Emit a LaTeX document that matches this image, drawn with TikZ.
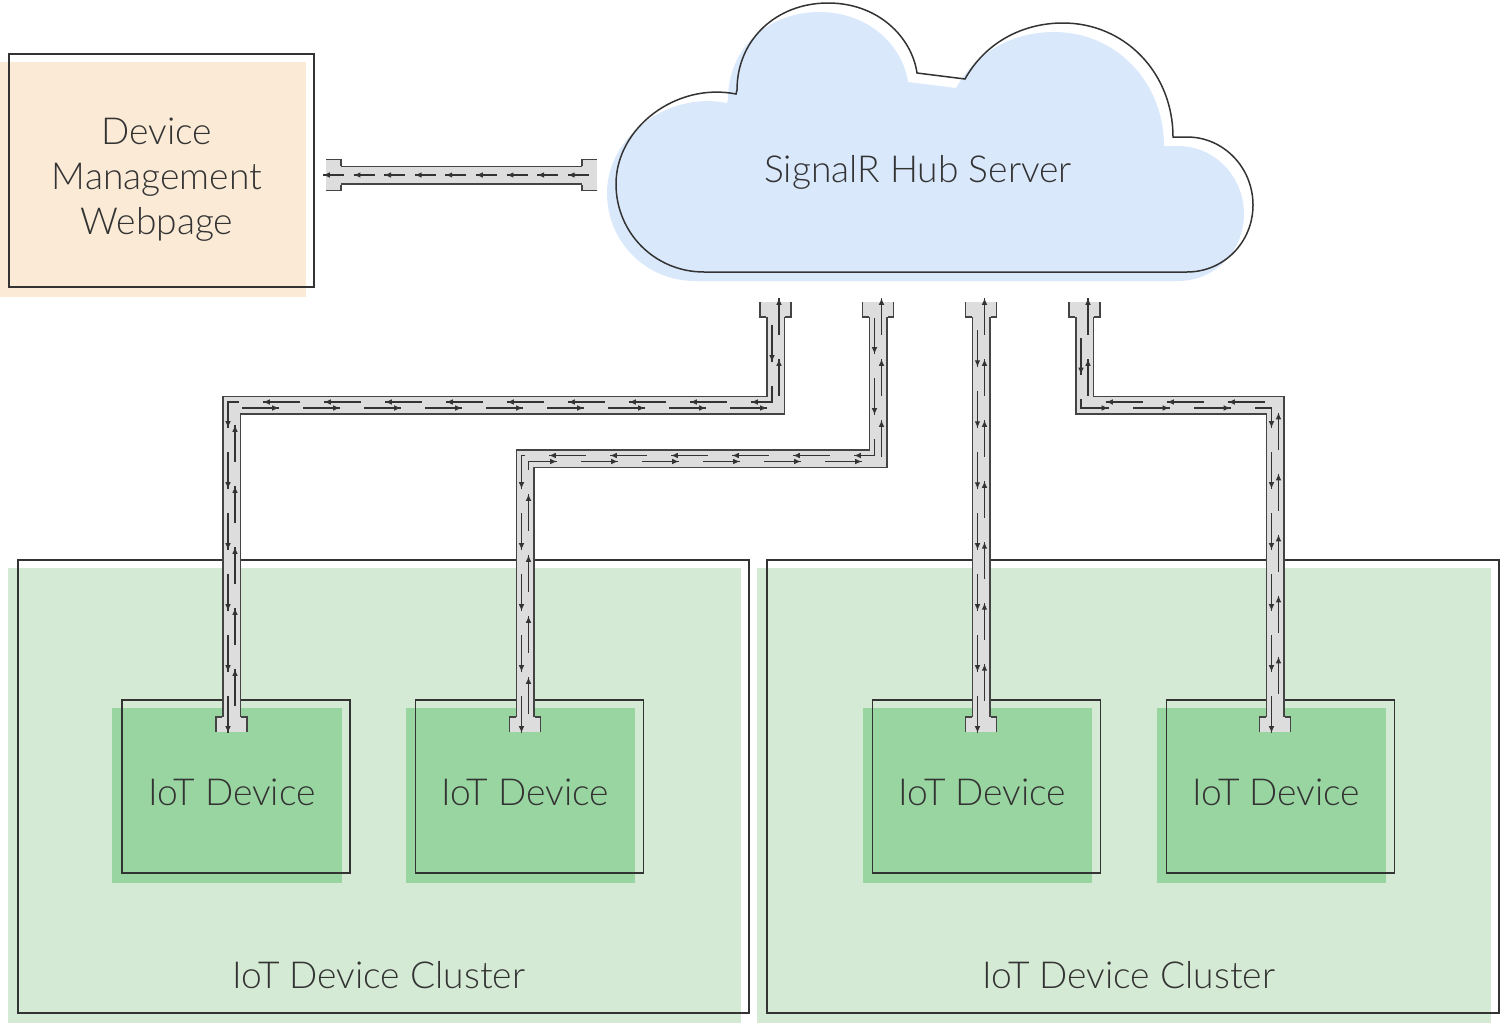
\documentclass[tikz,border=0pt]{standalone}
\usepackage{fontspec}
\setmainfont{Lato Light}
\usetikzlibrary{arrows.meta,calc,decorations.markings,backgrounds}

\definecolor{inkgray}{HTML}{333333}
\definecolor{pipegray}{HTML}{444444}
\definecolor{pipefill}{HTML}{DDDDDD}
\definecolor{webfill}{HTML}{FAEAD6}
\definecolor{hubfill}{HTML}{DAE8FC}
\definecolor{clusterfill}{HTML}{D5EAD4}
\definecolor{devfill}{HTML}{99D5A1}

\newcommand\hubcloud{(704,272) .. controls (655,272) and (616,233) .. (616,184)
  .. controls (616,128) and (676,82) .. (736,94) -- (737,90)
  .. controls (737,39) and (777,3) .. (828,3) .. controls (879,3) and (912,38) .. (917,73)
  -- (965,79) .. controls (985,43) and (1022,23) .. (1063,23)
  .. controls (1125,23) and (1173,73) .. (1173,137) -- (1187,137)
  .. controls (1224,137) and (1253,168) .. (1253,205)
  .. controls (1253,242) and (1224,272) .. (1187,272) -- cycle}

\tikzset{
  box/.style={draw=inkgray, line width=0.75pt, inner sep=0pt},
  pipeedge/.style={draw=pipegray, line width=9.5pt},
  pipecore/.style={draw=pipefill, line width=8pt},
  lane/.style n args={3}{draw=inkgray, line width=0.6pt, dash pattern=on #1 off #2,
    postaction={decorate, decoration={markings,
      mark=between positions 0 and 1 step #3 with {\arrowreversed{Latex[length=3.4pt,width=2.8pt]}}}}},
  hublane/.style={lane={18.5pt}{12pt}{30.5pt}},
  weblane/.style={lane={10.5pt}{4.8pt}{15.3pt}},
  pics/flange/.style={code={
    \fill[pipefill] (-15.5,0) rectangle (15.5,15);
    \draw[pipegray, line width=0.75pt] (-15.5,0) -- (-15.5,15) -- (-9.5,15)
      (15.5,0) -- (15.5,15) -- (9.5,15);
  }},
}

\begin{document}
\begin{tikzpicture}[x=0.5pt, y=-0.5pt,
    every node/.style={font=\fontsize{18.6pt}{22.5pt}\selectfont, text=inkgray, align=center}]
  \useasboundingbox (0,0) rectangle (1500,1023);

  % boxes
  \node[box, minimum width=152.5pt, minimum height=116.5pt] (web) at (161.5,170.5) {};
  \node (webtxt) at ($(web)+(-4.5,9)$) {Device\\Management\\Webpage};
  \node[box, minimum width=365.5pt, minimum height=226.5pt] (lcluster) at (383.5,786.5) {};
  \node[box, minimum width=366pt, minimum height=226.5pt] (rcluster) at (1133,786.5) {};
  \foreach \n/\x in {1/236, 2/529.5, 3/986.5, 4/1280.5} {
    \node[box, minimum width=114pt, minimum height=86.5pt] (dev\n) at (\x,786.5) {};
    \node (devtxt\n) at ($(dev\n)+(-4,6)$) {IoT Device};
  }
  \node (lclabel) at (379,975) {IoT Device Cluster};
  \node (rclabel) at (1129,975) {IoT Device Cluster};

  \begin{scope}[on background layer]
    \foreach \n/\c in {web/webfill, lcluster/clusterfill, rcluster/clusterfill,
        dev1/devfill, dev2/devfill, dev3/devfill, dev4/devfill}
      \fill[\c] ($(\n.south west)+(-9,9)$) rectangle ($(\n.north east)+(-9,9)$);
  \end{scope}

  % hub cloud
  \fill[hubfill, shift={(-9,9)}] \hubcloud;
  \draw[inkgray, line width=0.75pt] \hubcloud;
  \node (hub) at (918,172) {SignalR Hub Server};

  % pipe ports
  \coordinate (webport) at (326,175);
  \coordinate (hubport) at (597,175);
  \coordinate (c1) at (775.5,302);
  \coordinate (c2) at (878,302);
  \coordinate (c3) at (981,302);
  \coordinate (c4) at (1084.5,302);
  \coordinate (d1) at (231.5,732);
  \coordinate (d2) at (525,732);
  \coordinate (d3) at (981,732);
  \coordinate (d4) at (1275,732);

  % hub -> webpage
  \draw[pipeedge] (webport) -- (hubport);
  \draw[pipecore] (webport) -- (hubport);
  \pic[rotate=90] at (webport) {flange};
  \pic[rotate=-90] at (hubport) {flange};
  \draw[weblane] ($(webport)+(-3,0)$) -- ($(hubport)+(-7,0)$);

  % hub <-> devices
  \foreach \i/\yb/\s in {1/405/-1, 2/458.5/-1, 3/500/0, 4/405/1} {
    \draw[pipeedge] (c\i) |- (d\i |- 0,\yb) -- (d\i);
    \draw[pipecore] (c\i) |- (d\i |- 0,\yb) -- (d\i);
    \pic at (c\i) {flange};
    \pic[rotate=180] at (d\i) {flange};
    \draw[hublane] ($(d\i)+(-3.5,1)$) |- ($(c\i |- 0,\yb)+(-3.5,3*\s)$) -- ($(c\i)+(-3.5,16)$);
    \draw[hublane] ($(c\i)+(3.5,-4)$) |- ($(d\i |- 0,\yb)+(3.5,-3*\s)$) -- ($(d\i)+(3.5,-16)$);
  }
\end{tikzpicture}
\end{document}
